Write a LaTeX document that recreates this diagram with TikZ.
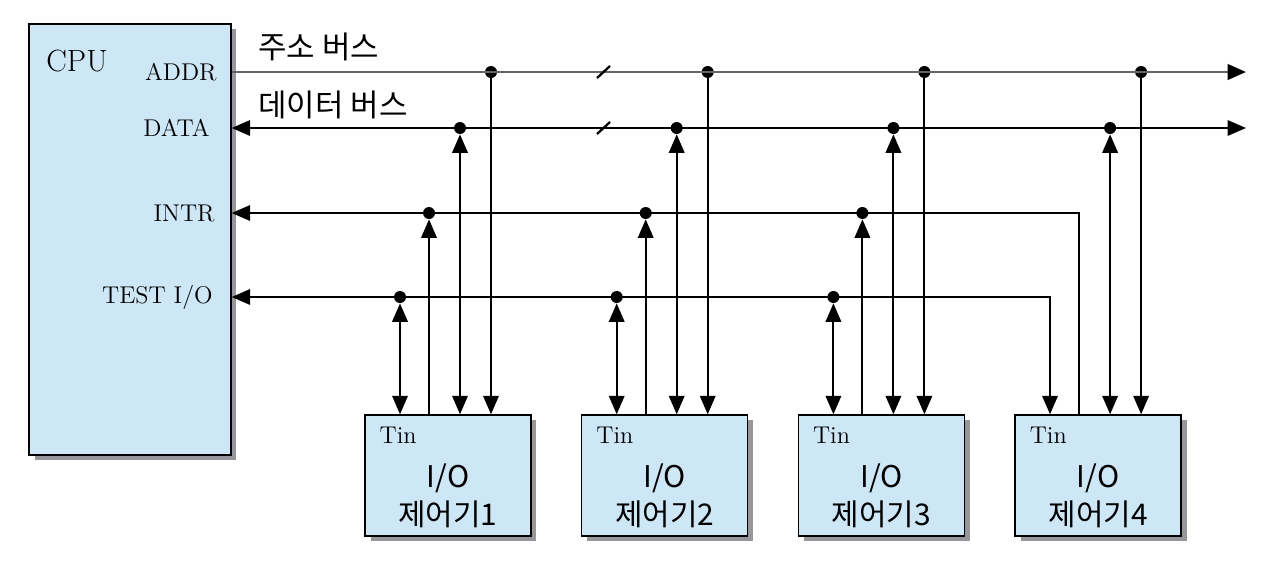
\documentclass[tikz,border=0pt]{standalone}
\usepackage{fontspec}
\newfontfamily\kr{Noto Sans CJK KR}
\usetikzlibrary{arrows.meta, positioning, calc, shadows}
\definecolor{boxblue}{RGB}{206,231,247}
\definecolor{shade}{RGB}{150,150,155}
\tikzset{
  blk/.style={draw=black, thick, fill=boxblue, drop shadow={shadow xshift=0.11cm, shadow yshift=-0.1cm, fill=shade, opacity=1}},
  cpu/.style={blk, minimum width=4.04cm, minimum height=8.62cm, inner sep=0pt},
  ioc/.style={blk, minimum width=3.32cm, minimum height=2.42cm, inner sep=0pt},
  pin/.style={font=\fontsize{13.8}{15}\selectfont, anchor=east, inner sep=0pt},
  tin/.style={font=\fontsize{13.8}{15}\selectfont, inner sep=0pt},
  kor/.style={font=\kr\fontsize{17.6}{20}\selectfont, anchor=west, inner sep=0pt},
  iot/.style={font=\kr\fontsize{17}{21.6}\selectfont, align=center, inner sep=0pt},
  bus/.style={line width=1.1pt},
  abus/.style={line width=1.7pt, draw=black!60},
  dot/.style={circle, fill=black, inner sep=0pt, minimum size=0.24cm}
}
\begin{document}
\begin{tikzpicture}[x=0.02cm, y=-0.02cm, >={Triangle[length=0.37cm, width=0.31cm]}]
	\useasboundingbox (0,0) rectangle (1280,575);
	\node[cpu] (cpu) at (130,239.5) {};
	\node[font=\fontsize{17.5}{19}\selectfont, inner sep=0pt] (cpul) at (77,61) {CPU};
	% pins of the cpu
	\node[pin] (addr) at (217,72) {ADDR};
	\node[pin] (data) at (210,128) {DATA};
	\node[pin] (intr) at (215,213) {INTR};
	\node[pin] (test) at (213,297) {TEST I/O};
	\node[kor] (abl) at (258,47) {주소 버스};
	\node[kor] (dbl) at (258,105) {데이터 버스};
	% controllers
	\foreach \i in {1,...,4} {
		\pgfmathsetmacro\xc{448+216.7*(\i-1)}
		\node[ioc] (io\i) at (\xc,475.5) {};
		\node[tin, below right=0.24cm and 0.3cm of io\i.north west] (tin\i) {Tin};
		\node[iot] (l\i) at ([yshift=-0.41cm]io\i.center) {I/O\\제어기\i};
		\node[dot] (a\i) at (\xc+43,72) {};
		\node[dot] (d\i) at (\xc+12,128) {};
	}
	\foreach \i in {1,2,3} {
		\pgfmathsetmacro\xc{448+216.7*(\i-1)}
		\node[dot] (n\i) at (\xc-19,213) {};
		\node[dot] (t\i) at (\xc-48,297) {};
	}
	\coordinate (n4) at (1079,213);
	\coordinate (t4) at (1050,297);
	\coordinate (aend) at (1246,72);
	\coordinate (dend) at (1246,128);
	% buses
	\draw[abus, -{Triangle[length=0.37cm, width=0.31cm, black]}] (cpu.east |- addr) -- (aend);
	\draw[bus, <->] (cpu.east |- data) -- (dend);
	\draw[bus, <-] (cpu.east |- intr) -- (n4) -- (io4.north -| n4);
	\draw[bus, <->] (cpu.east |- test) -- (t4) -- (io4.north -| t4);
	\foreach \y in {72,128} \draw[line width=1.3pt] (597,\y+6) -- (610,\y-6);
	% taps
	\foreach \i in {1,...,4} {
		\draw[bus, ->] (a\i) -- (io\i.north -| a\i);
		\draw[bus, <->] (io\i.north -| d\i) -- (d\i);
	}
	\foreach \i in {1,2,3} {
		\draw[bus, ->] (io\i.north -| n\i) -- (n\i);
		\draw[bus, <->] (io\i.north -| t\i) -- (t\i);
	}
\end{tikzpicture}
\end{document}
